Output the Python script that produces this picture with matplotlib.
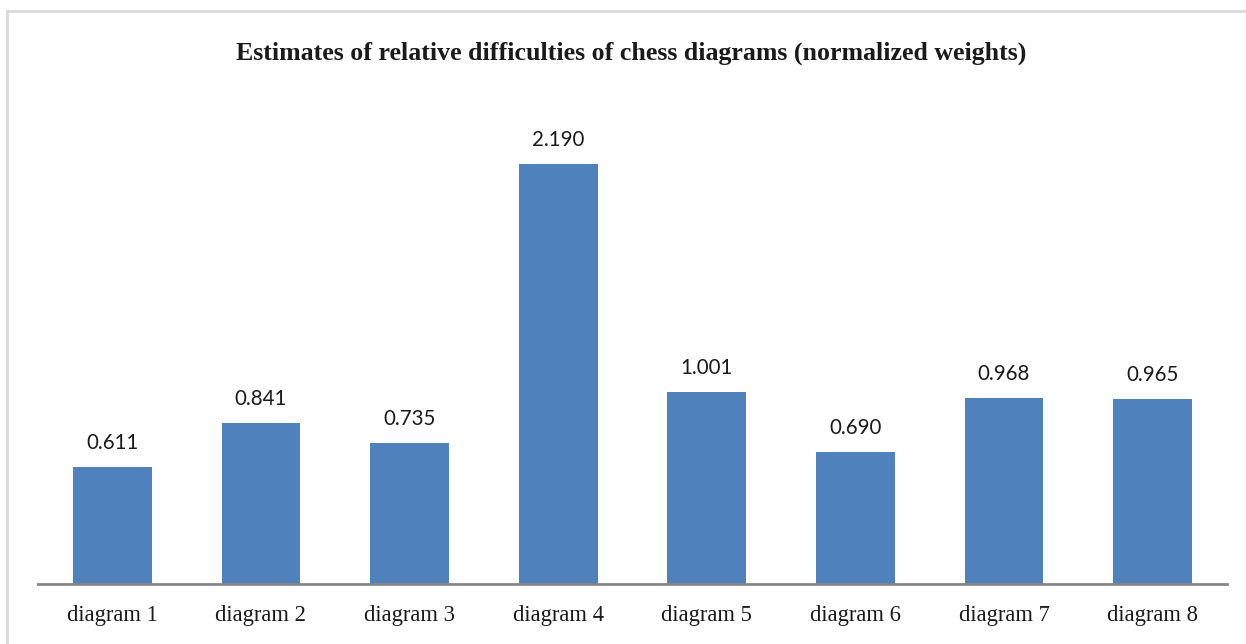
import matplotlib.pyplot as plt
from matplotlib.lines import Line2D
import numpy as np

categories = ["diagram 1", "diagram 2", "diagram 3", "diagram 4",
              "diagram 5", "diagram 6", "diagram 7", "diagram 8"]
weights = [0.611, 0.841, 0.735, 2.190, 1.001, 0.690, 0.968, 0.965]
title = "Estimates of relative difficulties of chess diagrams (normalized weights)"

W, H = 1246, 644
fig = plt.figure(figsize=(W / 100, H / 100), dpi=100)

# axes in pixel units: baseline at y=584, x from 38 to 1227, 2.5 -> y~104.5
left, right = 38, 1227
bottom, top = 584, 584 - 2.5 * 191.8
ax = fig.add_axes([left / W, 1 - bottom / H, (right - left) / W, (bottom - top) / H])

x = np.arange(len(categories))
ax.bar(x, weights, width=0.53, color="#4F81BD", zorder=2)
ax.set_xlim(-0.5, len(categories) - 0.5)
ax.set_ylim(0, 2.5)

for xi, v in zip(x, weights):
    ax.annotate(f"{v:.3f}", (xi, v), xytext=(0, 10), textcoords="offset points",
                ha="center", va="bottom", fontsize=14.8, family="Lato", color="#1a1a1a")

ax.set_xticks(x)
ax.set_xticklabels(categories, family="Liberation Serif", fontsize=16.3, color="#1a1a1a")
ax.tick_params(axis="x", length=0, pad=15)
ax.set_yticks([])
for s in ["left", "right", "top"]:
    ax.spines[s].set_visible(False)
ax.spines["bottom"].set_color("#868686")
ax.spines["bottom"].set_linewidth(2)

# chart frame (left and top edges visible)
fig.add_artist(Line2D([6.5 / W, 6.5 / W], [0, 1 - 10.5 / H], transform=fig.transFigure,
                      color="#D9D9D9", lw=2))
fig.add_artist(Line2D([6.5 / W, 1], [1 - 10.5 / H, 1 - 10.5 / H], transform=fig.transFigure,
                      color="#D9D9D9", lw=2))

fig.text(631 / W, 1 - 53 / H, title, ha="center", va="center",
         family="Liberation Serif", fontweight="bold", fontsize=18.6, color="#1a1a1a")

fig.savefig("out.png", dpi=100, facecolor="white")
